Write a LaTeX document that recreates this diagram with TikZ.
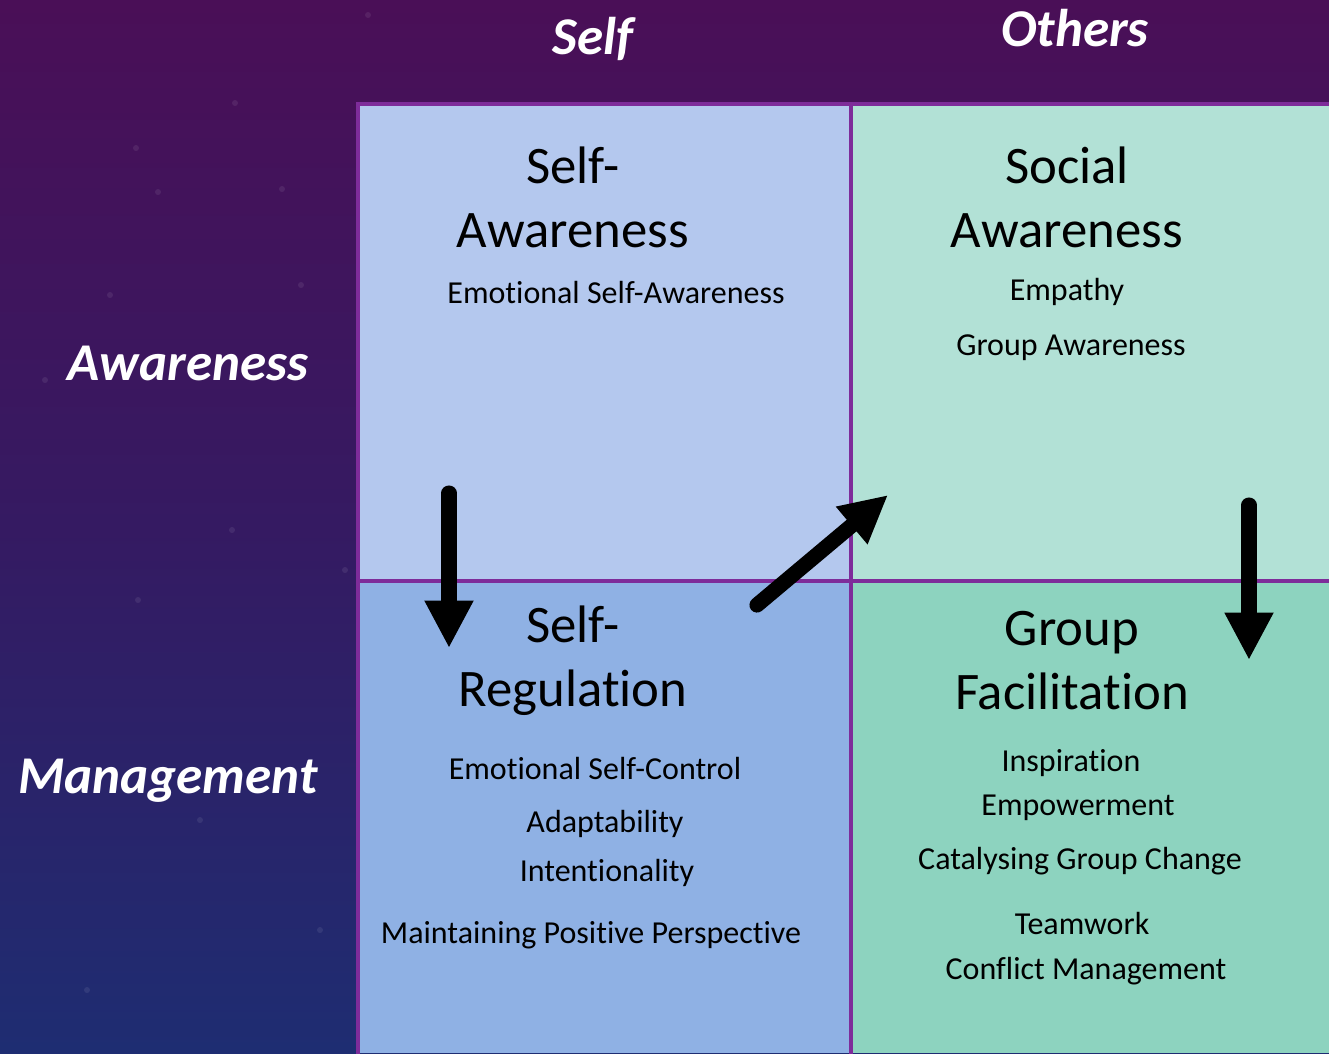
\documentclass[tikz,border=0pt]{standalone}
\usepackage{fontspec}
\setmainfont{Carlito}[Ligatures={NoCommon,NoRequired,NoContextual}]
\usepackage{xcolor}
\usetikzlibrary{arrows.meta}

\definecolor{bgTop}{HTML}{4A0F57}
\definecolor{bgMid}{HTML}{351A62}
\definecolor{bgBot}{HTML}{1E2D72}
\definecolor{gridLine}{HTML}{7E2C9A}
\definecolor{saFill}{HTML}{B4C8EE}
\definecolor{soFill}{HTML}{B2E1D6}
\definecolor{srFill}{HTML}{8FB1E4}
\definecolor{gfFill}{HTML}{8DD3BF}

\begin{document}
\begin{tikzpicture}[x=0.01cm, y=-0.01cm,
  head/.style={font=\fontsize{15.1}{18}\selectfont\bfseries\itshape, text=white},
  ttl/.style={font=\fontsize{15}{18.2}\selectfont, align=center},
  itm/.style={font=\fontsize{9.1}{10.5}\selectfont},
  arr/.style={-{Triangle[width=13pt,length=13.5pt]}, line width=4.3pt, line cap=round}]
% ---- background ----
\shade[top color=bgTop, bottom color=bgBot, middle color=bgMid] (0,0) rectangle (1329,1053);
\foreach \sx/\sy in {235/103,136/148,158/192,110/295,282/189,301/285,368/15,45/380,232/530,138/600,345/570,320/930,200/820,87/990}
  \fill[white, opacity=0.08] (\sx,\sy) circle (3);
\useasboundingbox (0,0) rectangle (1329,1053);
% ---- quadrants ----
\fill[saFill] (358,104) rectangle (851,581);
\fill[soFill] (851,104) rectangle (1329,581);
\fill[srFill] (358,581) rectangle (851,1053);
\fill[gfFill] (851,581) rectangle (1329,1053);
\draw[gridLine, line width=1.2pt] (358,1060) -- (358,104) -- (1335,104);
\draw[gridLine, line width=1.2pt] (851,104) -- (851,1060);
\draw[gridLine, line width=1.2pt] (358,581) -- (1335,581);
% ---- axis headings ----
\node[head] (self) at (593,39) {Self};
\node[head] (others) at (1075,28) {Others};
\node[head] (aware) at (188,363) {Awareness};
\node[head] (manage) at (168,781) {Management};
% ---- top left: self-awareness ----
\node[ttl] (saT) at (573,197) {Self-\\Awareness};
\node[itm] (sa1) at (616,292) {Emotional Self-Awareness};
% ---- top right: social awareness ----
\node[ttl] (soT) at (1067,197) {Social\\Awareness};
\node[itm] (so1) at (1067,292) {Empathy};
\node[itm] (so2) at (1071,348) {Group Awareness};
% ---- bottom left: self-regulation ----
\node[ttl] (srT) at (573,661) {Self-\\Regulation};
\node[itm] (sr1) at (595,768) {Emotional Self-Control};
\node[itm] (sr2) at (605,824) {Adaptability};
\node[itm] (sr3) at (607,873) {Intentionality};
\node[itm] (sr4) at (591,935) {Maintaining Positive Perspective};
% ---- bottom right: group facilitation ----
\node[ttl] (gfT) at (1072,661) {Group\\Facilitation};
\node[itm] (gf1) at (1071,763) {Inspiration};
\node[itm] (gf2) at (1078,808) {Empowerment};
\node[itm] (gf3) at (1080,861) {Catalysing Group Change};
\node[itm] (gf4) at (1082,923) {Teamwork};
\node[itm] (gf5) at (1086,971) {Conflict Management};
% ---- flow arrows ----
\coordinate (a1s) at (449,493);
\coordinate (a1e) at (449,648);
\coordinate (a2s) at (757,605);
\coordinate (a2e) at (888,495);
\coordinate (a3s) at (1249,505);
\coordinate (a3e) at (1249,660);
\draw[arr] (a1s) -- (a1e);
\draw[arr] (a2s) -- (a2e);
\draw[arr] (a3s) -- (a3e);
\end{tikzpicture}
\end{document}
